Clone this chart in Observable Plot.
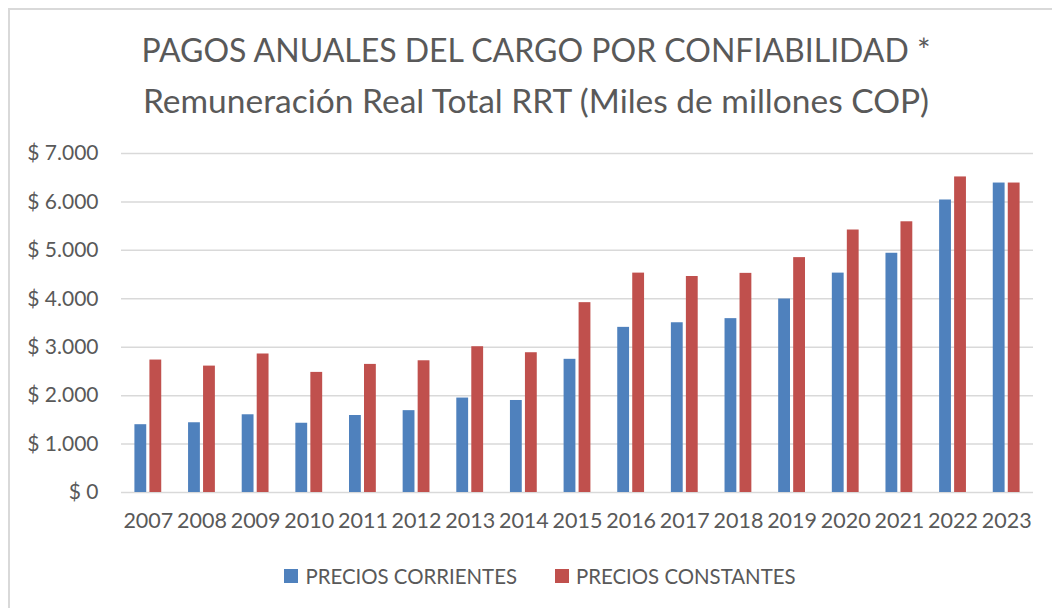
<!DOCTYPE html>
<html>
<head>
<meta charset="utf-8">
<script src="https://cdn.jsdelivr.net/npm/d3@7"></script>
<script src="https://cdn.jsdelivr.net/npm/@observablehq/plot@0.6"></script>
<style>
  html, body { margin: 0; padding: 0; background: #fff; overflow: hidden; }
  body { width: 1052px; height: 608px; position: relative; font-family: Lato, "Open Sans", sans-serif; color: #595959; }
  #frame { position: absolute; left: 8px; top: 8px; width: 1100px; height: 700px; border-left: 2px solid #d9d9d9; border-top: 2px solid #d9d9d9; pointer-events: none; }
  #title { height: 130px; box-sizing: border-box; padding-top: 25px; padding-left: 20px; text-align: center; line-height: 50px; color: #595959; }
  #t1 { font-size: 32px; }
  #t2 { font-size: 33.5px; }
  #chart svg { display: block; }
  #legend { height: 71px; box-sizing: border-box; padding-top: 7px; padding-left: 28px; display: flex; justify-content: center; align-items: center; font-size: 20.4px; color: #595959; }
  .item { display: flex; align-items: center; margin: 0 19px; }
  .sw { width: 14px; height: 14px; margin-right: 7px; }
</style>
</head>
<body>
<div id="frame"></div>
<div id="title"><div id="t1">PAGOS ANUALES DEL CARGO POR CONFIABILIDAD *</div><div id="t2">Remuneración Real Total RRT (Miles de millones COP)</div></div>
<div id="chart"></div>
<div id="legend"></div>
<script>
const years = ["2007","2008","2009","2010","2011","2012","2013","2014","2015","2016","2017","2018","2019","2020","2021","2022","2023"];
const corrientes = [1400,1440,1605,1430,1590,1690,1950,1900,2750,3410,3505,3590,3995,4530,4940,6040,6390];
const constantes = [2735,2610,2860,2480,2645,2720,3010,2886,3920,4530,4460,4525,4850,5420,5590,6516,6390];
const series = ["PRECIOS CORRIENTES", "PRECIOS CONSTANTES"];
const colors = ["#4F81BD", "#C0504D"];
const yTicks = [0,1000,2000,3000,4000,5000,6000,7000];

const dataC = years.map((y, i) => ({year: y, serie: series[0], value: corrientes[i]}));
const dataK = years.map((y, i) => ({year: y, serie: series[1], value: constantes[i]}));

const fmt = d => "$ " + d3.format(",")(d).replace(/,/g, ".");

const plot = Plot.plot({
  width: 1052,
  height: 407,
  marginLeft: 121,
  marginRight: 19,
  marginTop: 23,
  marginBottom: 45,
  style: {fontFamily: "Lato, 'Open Sans', sans-serif", fontSize: "21px", color: "#595959", background: "transparent", overflow: "visible"},
  x: {domain: years, paddingInner: 0.5, paddingOuter: 0.25, round: false, axis: null},
  y: {domain: [0, 7000], ticks: yTicks, tickFormat: fmt, tickSize: 0, tickPadding: 23, label: null},
  color: {domain: series, range: colors},
  marks: [
    Plot.gridY(yTicks, {stroke: "#d9d9d9", strokeOpacity: 1, strokeWidth: 1.5}),
    Plot.barY(dataC, {x: "year", y: "value", fill: "serie", insetRight: 15}),
    Plot.barY(dataK, {x: "year", y: "value", fill: "serie", insetLeft: 15}),
    Plot.axisX({tickSize: 0, tickPadding: 20, fontSize: 21.5, label: null})
  ]
});
document.getElementById("chart").appendChild(plot);

const legend = document.getElementById("legend");
series.forEach((s, i) => {
  const it = document.createElement("div");
  it.className = "item";
  const sw = document.createElement("div");
  sw.className = "sw";
  sw.style.background = colors[i];
  const tx = document.createElement("span");
  tx.textContent = s;
  it.appendChild(sw);
  it.appendChild(tx);
  legend.appendChild(it);
});
</script>
</body>
</html>
